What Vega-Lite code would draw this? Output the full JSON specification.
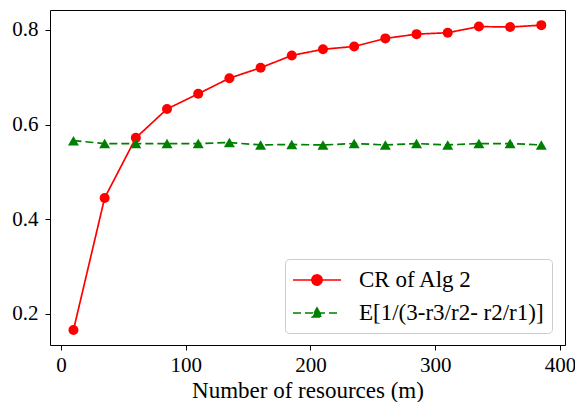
{
  "$schema": "https://vega.github.io/schema/vega-lite/v6.json",
  "autosize": {"type": "none"},
  "padding": {"left": 50, "top": 10, "right": 10, "bottom": 57},
  "width": 515,
  "height": 335,
  "background": "white",
  "config": {
    "font": "Liberation Serif",
    "view": {"stroke": "black", "strokeWidth": 1},
    "axis": {
      "grid": false,
      "domain": false,
      "tickColor": "black",
      "tickSize": 5,
      "labelFont": "Liberation Serif",
      "labelFontSize": 21,
      "labelColor": "black",
      "titleFont": "Liberation Serif",
      "titleFontSize": 23,
      "titleFontWeight": "normal",
      "titleColor": "black",
      "labelPadding": 4
    }
  },
  "data": {
    "values": [
      {"m": 10, "v": 0.166, "s": "CR of Alg 2"},
      {"m": 35, "v": 0.445, "s": "CR of Alg 2"},
      {"m": 60, "v": 0.572, "s": "CR of Alg 2"},
      {"m": 85, "v": 0.633, "s": "CR of Alg 2"},
      {"m": 110, "v": 0.665, "s": "CR of Alg 2"},
      {"m": 135, "v": 0.698, "s": "CR of Alg 2"},
      {"m": 160, "v": 0.720, "s": "CR of Alg 2"},
      {"m": 185, "v": 0.746, "s": "CR of Alg 2"},
      {"m": 210, "v": 0.759, "s": "CR of Alg 2"},
      {"m": 235, "v": 0.765, "s": "CR of Alg 2"},
      {"m": 260, "v": 0.782, "s": "CR of Alg 2"},
      {"m": 285, "v": 0.791, "s": "CR of Alg 2"},
      {"m": 310, "v": 0.794, "s": "CR of Alg 2"},
      {"m": 335, "v": 0.807, "s": "CR of Alg 2"},
      {"m": 360, "v": 0.806, "s": "CR of Alg 2"},
      {"m": 385, "v": 0.810, "s": "CR of Alg 2"},
      {"m": 10, "v": 0.566, "s": "E[1/(3-r3/r2- r2/r1)]"},
      {"m": 35, "v": 0.560, "s": "E[1/(3-r3/r2- r2/r1)]"},
      {"m": 60, "v": 0.560, "s": "E[1/(3-r3/r2- r2/r1)]"},
      {"m": 85, "v": 0.560, "s": "E[1/(3-r3/r2- r2/r1)]"},
      {"m": 110, "v": 0.560, "s": "E[1/(3-r3/r2- r2/r1)]"},
      {"m": 135, "v": 0.562, "s": "E[1/(3-r3/r2- r2/r1)]"},
      {"m": 160, "v": 0.557, "s": "E[1/(3-r3/r2- r2/r1)]"},
      {"m": 185, "v": 0.558, "s": "E[1/(3-r3/r2- r2/r1)]"},
      {"m": 210, "v": 0.557, "s": "E[1/(3-r3/r2- r2/r1)]"},
      {"m": 235, "v": 0.560, "s": "E[1/(3-r3/r2- r2/r1)]"},
      {"m": 260, "v": 0.557, "s": "E[1/(3-r3/r2- r2/r1)]"},
      {"m": 285, "v": 0.560, "s": "E[1/(3-r3/r2- r2/r1)]"},
      {"m": 310, "v": 0.557, "s": "E[1/(3-r3/r2- r2/r1)]"},
      {"m": 335, "v": 0.560, "s": "E[1/(3-r3/r2- r2/r1)]"},
      {"m": 360, "v": 0.560, "s": "E[1/(3-r3/r2- r2/r1)]"},
      {"m": 385, "v": 0.557, "s": "E[1/(3-r3/r2- r2/r1)]"}
    ]
  },
  "encoding": {
    "x": {
      "field": "m", "type": "quantitative",
      "scale": {"domain": [-8.8, 404], "nice": false, "zero": false},
      "axis": {"values": [0, 100, 200, 300, 400], "title": "Number of resources (m)", "titlePadding": 4}
    },
    "y": {
      "field": "v", "type": "quantitative",
      "scale": {"domain": [0.1345, 0.842], "nice": false, "zero": false},
      "axis": {"values": [0.2, 0.4, 0.6, 0.8], "format": ".1f", "title": null, "labelPadding": 7}
    },
    "color": {
      "field": "s", "type": "nominal",
      "scale": {"domain": ["CR of Alg 2", "E[1/(3-r3/r2- r2/r1)]"], "range": ["#ff0000", "#008000"]},
      "legend": {
        "title": null,
        "orient": "none",
        "legendX": 235,
        "legendY": 249,
        "padding": 8,
        "rowPadding": 8,
        "symbolSize": 576,
        "symbolOffset": 11,
        "symbolStrokeWidth": 1.7,
        "labelOffset": 29,
        "labelLimit": 0,
        "labelFont": "Liberation Serif",
        "labelFontSize": 23,
        "labelColor": "black",
        "strokeColor": "#cccccc",
        "fillColor": "white",
        "cornerRadius": 4,
        "encode": {
          "symbols": {
            "update": {
              "shape": {"signal": "datum.value === 'CR of Alg 2' ? 'M-2,0H2M-0.42,0A0.42,0.42 0 1,0 0.42,0A0.42,0.42 0 1,0 -0.42,0Z' : 'M-2,0H2M0,-0.42L0.4,0.33L-0.4,0.33Z'"},
              "fill": {"signal": "datum.value === 'CR of Alg 2' ? '#ff0000' : '#008000'"},
              "stroke": {"signal": "datum.value === 'CR of Alg 2' ? '#ff0000' : '#008000'"},
              "opacity": {"value": 1},
              "fillOpacity": {"value": 1}
            }
          }
        }
      }
    }
  },
  "layer": [
    {
      "mark": {"type": "line", "strokeWidth": 1.7},
      "encoding": {
        "strokeDash": {
          "field": "s", "type": "nominal",
          "scale": {"domain": ["CR of Alg 2", "E[1/(3-r3/r2- r2/r1)]"], "range": [[1, 0], [8, 4]]}
        }
      }
    },
    {
      "transform": [{"filter": "datum.s === 'CR of Alg 2'"}],
      "mark": {"type": "point", "filled": true, "opacity": 1, "size": 100, "shape": "circle"}
    },
    {
      "transform": [{"filter": "datum.s !== 'CR of Alg 2'"}],
      "mark": {"type": "point", "filled": true, "opacity": 1, "size": 120, "shape": "triangle-up"}
    }
  ]
}
